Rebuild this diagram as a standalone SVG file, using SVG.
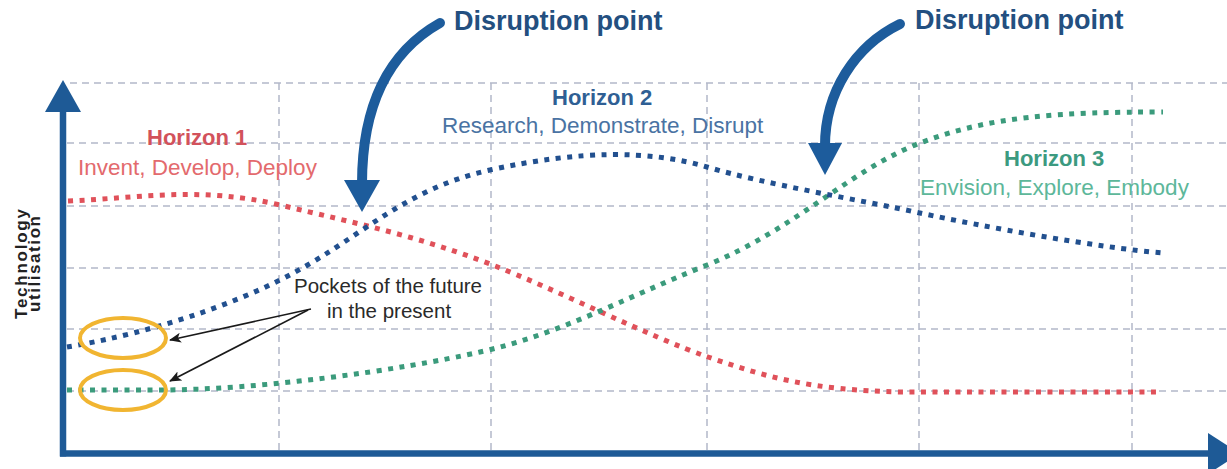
<svg xmlns="http://www.w3.org/2000/svg" width="1227" height="469" viewBox="0 0 1227 469">
  <defs>
    <style>
      .grid { stroke: #b3b8c9; stroke-width: 1.5; stroke-dasharray: 7 5; fill: none; }
      .curve { fill: none; stroke-width: 5; stroke-dasharray: 5 6.5; }
      .h1 { stroke: #e0515a; }
      .h2 { stroke: #22508f; }
      .h3 { stroke: #3b9b7c; }
      .axis { stroke: #1e5a96; stroke-width: 6.5; fill: none; }
      .axis-head { fill: #1e5a96; }
      .disrupt { stroke: #1d5c9c; stroke-width: 10; fill: none; stroke-linecap: round; }
      .disrupt-head { fill: #1d5c9c; }
      .pocket { fill: none; stroke: #f1b531; stroke-width: 4; }
      .pointer { stroke: #1a1a1a; stroke-width: 1.6; fill: none; }
      text { font-family: "Liberation Sans", Arial, sans-serif; }
      .title { font-size: 27px; font-weight: bold; fill: #234f80; }
      .hz { font-size: 22px; font-weight: bold; }
      .sub { font-size: 22.5px; }
      .note { font-size: 20.5px; fill: #2a2a2a; text-anchor: middle; }
      .ylab { font-size: 17px; font-weight: bold; fill: #222; text-anchor: middle; }
    </style>
    <marker id="tip" viewBox="0 0 12 10" refX="11" refY="5" markerWidth="12" markerHeight="10" markerUnits="userSpaceOnUse" orient="auto">
      <path d="M0,0 L12,5 L0,10 L3,5 z" fill="#1a1a1a"/>
    </marker>
  </defs>

  <rect width="1227" height="469" fill="#ffffff"/>

  <!-- background grid -->
  <g id="grid">
    <line class="grid" x1="70" y1="83" x2="1227" y2="83"/>
    <line class="grid" x1="67" y1="143" x2="1227" y2="143"/>
    <line class="grid" x1="67" y1="206" x2="1227" y2="206"/>
    <line class="grid" x1="67" y1="268" x2="1227" y2="268"/>
    <line class="grid" x1="67" y1="329" x2="1227" y2="329"/>
    <line class="grid" x1="67" y1="391" x2="1227" y2="391"/>
    <line class="grid" x1="279" y1="83" x2="279" y2="450"/>
    <line class="grid" x1="491" y1="83" x2="491" y2="450"/>
    <line class="grid" x1="707" y1="83" x2="707" y2="450"/>
    <line class="grid" x1="919" y1="83" x2="919" y2="450"/>
    <line class="grid" x1="1132" y1="83" x2="1132" y2="450"/>
  </g>

  <!-- horizon curves -->
  <g id="horizon-1-curve">
    <path class="curve h1" d="M68,201 C140,198 200,186 280,205 S420,237 490,264 S650,337 708,357 S810,390 900,392 L1160,392"/>
  </g>
  <g id="horizon-3-curve">
    <path class="curve h3" d="M67,390 L160,390 C260,390 400,370 480,352 S620,300 707,265 S850,170 920,143 S1060,112 1163,112"/>
  </g>
  <g id="horizon-2-curve">
    <path class="curve h2" d="M67,347 C110,340 200,320 280,280 S400,190 490,170 S650,150 707,167 S860,200 920,213 S1100,248 1163,253"/>
  </g>

  <!-- pockets of the future -->
  <g id="pocket-h2">
    <ellipse class="pocket" cx="123" cy="338" rx="43" ry="20"/>
  </g>
  <g id="pocket-h3">
    <ellipse class="pocket" cx="123" cy="390" rx="43" ry="20"/>
  </g>
  <g id="pockets-label">
    <text class="note" x="388" y="293">Pockets of the future</text>
    <text class="note" x="389" y="318">in the present</text>
  </g>

  <!-- connectors -->
  <g id="connectors">
    <line class="pointer" x1="311" y1="309" x2="170" y2="340" marker-end="url(#tip)"/>
    <line class="pointer" x1="308" y1="310" x2="170" y2="381" marker-end="url(#tip)"/>
    <path class="disrupt" d="M440,23 C392,50 362,100 362,184"/>
    <polygon class="disrupt-head" points="344,180 380,180 362,212"/>
    <path class="disrupt" d="M900,24 C855,46 825,92 825,146"/>
    <polygon class="disrupt-head" points="808,143 842,143 825,175"/>
  </g>

  <!-- axes -->
  <g id="axes">
    <line class="axis" x1="63" y1="108" x2="63" y2="456.5"/>
    <polygon class="axis-head" points="45,112 63,80 81,112"/>
    <line class="axis" x1="60" y1="453.5" x2="1212" y2="453.5"/>
    <polygon class="axis-head" points="1208,433 1208,474 1240,453.5"/>
  </g>

  <!-- labels -->
  <g id="disruption-1">
    <text class="title" x="454" y="30">Disruption point</text>
  </g>
  <g id="disruption-2">
    <text class="title" x="915" y="29">Disruption point</text>
  </g>
  <g id="horizon-1">
    <text class="hz" x="147" y="145" fill="#d2525b">Horizon 1</text>
    <text class="sub" x="78" y="175" fill="#e36a6d">Invent, Develop, Deploy</text>
  </g>
  <g id="horizon-2">
    <text class="hz" x="552" y="105" fill="#2f5f94">Horizon 2</text>
    <text class="sub" x="442" y="133" fill="#4a73a3">Research, Demonstrate, Disrupt</text>
  </g>
  <g id="horizon-3">
    <text class="hz" x="1004" y="166" fill="#3c9a80">Horizon 3</text>
    <text class="sub" x="920" y="195" fill="#5db79a">Envision, Explore, Embody</text>
  </g>
  <g id="y-axis-label">
    <text class="ylab" transform="translate(27,264) rotate(-90)" textLength="110">Technology</text>
    <text class="ylab" transform="translate(40,264) rotate(-90)" textLength="96">utilisation</text>
  </g>
</svg>
